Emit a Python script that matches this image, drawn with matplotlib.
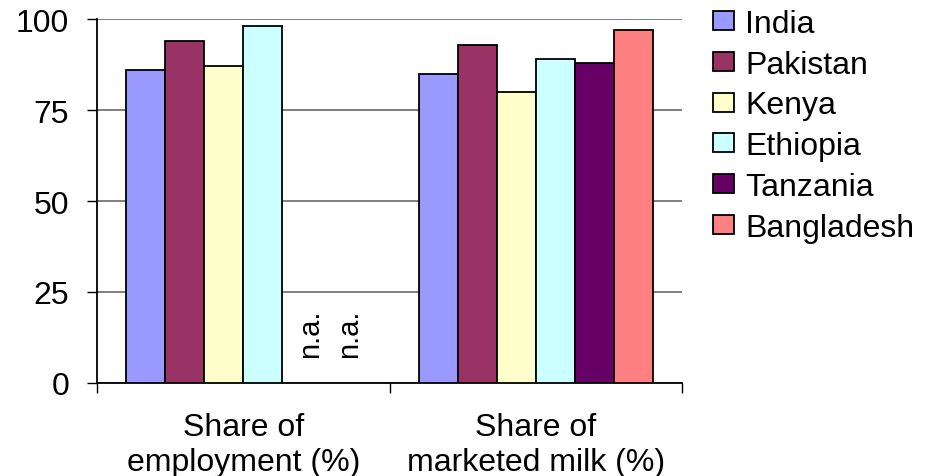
import numpy as np
import matplotlib.pyplot as plt

# shares by country, two indicators
categories = ["Share of\nemployment (%)", "Share of\nmarketed milk (%)"]
countries = ["India", "Pakistan", "Kenya", "Ethiopia", "Tanzania", "Bangladesh"]
values = {
    "India": [86, 85],
    "Pakistan": [94, 93],
    "Kenya": [87, 80],
    "Ethiopia": [98, 89],
    "Tanzania": [None, 88],
    "Bangladesh": [None, 97],
}
colors = ["#9999FF", "#993366", "#FFFFCC", "#CCFFFF", "#660066", "#FF8080"]
yticks = [0, 25, 50, 75, 100]

plt.rcParams["font.family"] = ["Liberation Sans", "DejaVu Sans"]
plt.rcParams["font.size"] = 23

fig = plt.figure(figsize=(9.34, 4.77), dpi=100)
ax = fig.add_axes([0.1039, 0.195, 0.6263, 0.763])

x = np.arange(len(categories))
n = len(countries)
width = 1 / (n + 1.5)  # Excel-style gap of 150%

for i, (name, col) in enumerate(zip(countries, colors)):
    pos = x + (i - (n - 1) / 2) * width
    for xp, v in zip(pos, values[name]):
        if v is None:
            # missing value marked inside its empty slot
            ax.annotate("n.a.", xy=(xp, 0), xytext=(6, 19), textcoords="offset points",
                        rotation=90, ha="center", va="bottom", fontsize=21)
            continue
        ax.bar(xp, v, width, color=col, edgecolor="black", linewidth=1.3,
               label=name if v == values[name][-1] else None, zorder=3)

ax.set_xlim(-0.5, len(categories) - 0.5)
ax.set_ylim(0, 100)
ax.set_yticks(yticks)
ax.yaxis.grid(True, color="#808080", linewidth=1.4, zorder=0)
ax.tick_params(axis="y", length=7, width=1, pad=13)

# tick marks between the groups, labels at group centres
ax.set_xticks(np.arange(-0.5, len(categories)), labels=[])
ax.set_xticks(x, labels=categories, minor=True)
ax.tick_params(axis="x", which="major", length=7, width=1)
ax.tick_params(axis="x", which="minor", length=0, pad=21)
for lbl in ax.get_xticklabels(minor=True):
    lbl.set_linespacing(1.2)

for side in ["top", "right"]:
    ax.spines[side].set_visible(False)
ax.spines["left"].set_linewidth(1.3)
ax.spines["bottom"].set_linewidth(1.3)

fig.legend(*ax.get_legend_handles_labels(), loc="upper left",
           bbox_to_anchor=(713 / 934, 1 - 10 / 477), frameon=False,
           handlelength=0.66, handleheight=0.53, handletextpad=0.34,
           labelspacing=0.335, borderpad=0, borderaxespad=0)

fig.savefig("out.png", dpi=100)
